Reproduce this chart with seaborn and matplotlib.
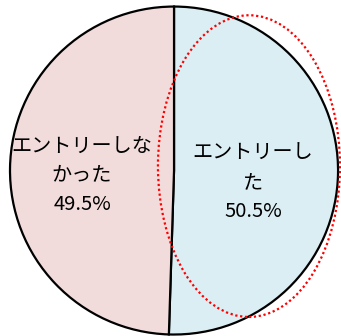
import matplotlib
matplotlib.use("Agg")
import matplotlib.pyplot as plt
from matplotlib.patches import Ellipse
import seaborn as sns

labels = ["エントリーし\nた", "エントリーしな\nかった"]
values = [50.5, 49.5]
colors = ["#DBEEF4", "#F2DCDB"]

sns.set_style("white")
plt.rcParams["font.family"] = ["Noto Sans CJK JP", "DejaVu Sans"]

fig = plt.figure(figsize=(3.41, 3.36), dpi=100)
ax = fig.add_axes([0, 0, 1, 1])

wedges, _ = ax.pie(values, colors=colors, startangle=90, counterclock=False,
                   wedgeprops=dict(edgecolor="black", linewidth=1.6))

ax.set_aspect("auto")
ax.set_xlim(-1.061, 1.018)
ax.set_ylim(-1.009, 1.040)
ax.axis("off")

# label positions (Excel-style, inside the slices)
pos = [(0.482, -0.075), (-0.561, -0.028)]
for lab, v, (x, y) in zip(labels, values, pos):
    ax.text(x, y, f"{lab}\n{v}%", ha="center", va="center",
            fontsize=14.5, linespacing=1.5, color="black")

# red dotted highlight around the "entered" slice
ax.add_patch(Ellipse((0.457, 0.027), 1.11, 1.84, fill=False,
                     edgecolor="red", linewidth=1.6, linestyle=(0, (1, 1.2))))

fig.savefig("out.png", dpi=100)
